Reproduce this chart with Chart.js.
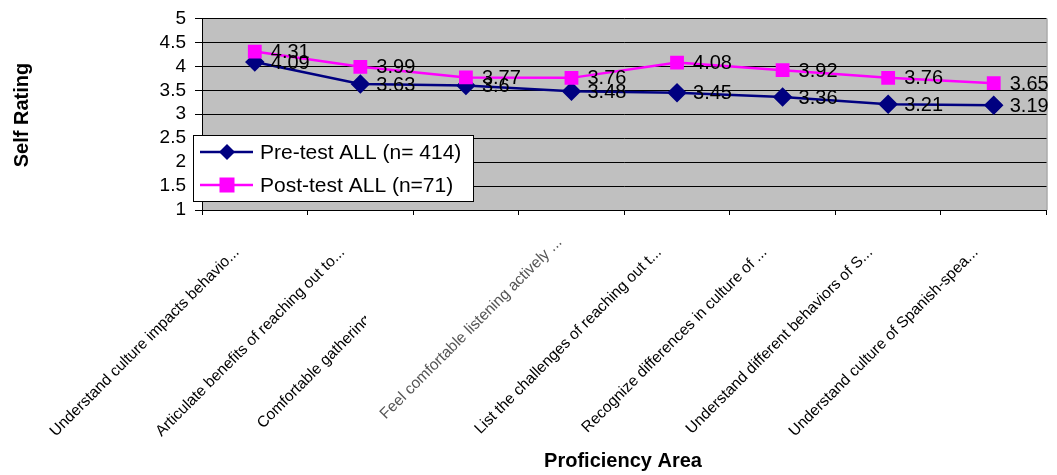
<!DOCTYPE html>
<html>
<head>
<meta charset="utf-8">
<script src="https://cdn.jsdelivr.net/npm/chart.js@4.4.1/dist/chart.umd.min.js"></script>
<style>
  html, body { margin: 0; padding: 0; background: #fff; }
  #wrap { width: 1057px; height: 475px; position: relative; }
</style>
</head>
<body>
<div id="wrap"><canvas id="chart" width="1057" height="475"></canvas></div>
<script>
// Proficiency areas (labels appear shortened on the axis)
const categories = [
  "Understand culture impacts behavio...",
  "Articulate benefits of reaching out to...",
  "Comfortable gathering",
  "Feel comfortable listening actively ...",
  "List the challenges of reaching out t...",
  "Recognize differences in culture of ...",
  "Understand different behaviors of S...",
  "Understand culture of Spanish-spea..."
];
const preLabel = "Pre-test ALL (n= 414)";
const postLabel = "Post-test ALL (n=71)";
const preValues = [4.09, 3.63, 3.6, 3.48, 3.45, 3.36, 3.21, 3.19];
const postValues = [4.31, 3.99, 3.77, 3.76, 4.08, 3.92, 3.76, 3.65];
const yTicks = [1, 1.5, 2, 2.5, 3, 3.5, 4, 4.5, 5];

const FONT = '"Liberation Sans", Arial, Helvetica, sans-serif';

// Grey plot background and right-hand frame
const plotBackground = {
  id: 'plotBackground',
  beforeDraw(chart) {
    const { ctx, chartArea: a } = chart;
    ctx.save();
    ctx.fillStyle = '#C0C0C0';
    ctx.fillRect(a.left, a.top, a.right - a.left, a.bottom - a.top);
    ctx.strokeStyle = '#808080';
    ctx.lineWidth = 1;
    ctx.beginPath();
    ctx.moveTo(a.right + 0.5, a.top);
    ctx.lineTo(a.right + 0.5, a.bottom);
    ctx.stroke();
    ctx.restore();
  }
};

// Value labels to the right of each marker
const valueLabels = {
  id: 'valueLabels',
  afterDatasetsDraw(chart) {
    const { ctx } = chart;
    ctx.save();
    ctx.font = '20px ' + FONT;
    ctx.fillStyle = '#000';
    ctx.textAlign = 'left';
    ctx.textBaseline = 'middle';
    chart.data.datasets.forEach((ds, i) => {
      const meta = chart.getDatasetMeta(i);
      meta.data.forEach((pt, j) => {
        ctx.fillText(String(ds.data[j]), pt.x + 16, pt.y + 1);
      });
    });
    ctx.restore();
  }
};

// Rotated category labels, axis titles and the boxed legend
const annotations = {
  id: 'annotations',
  afterDraw(chart) {
    const { ctx, chartArea: a } = chart;
    const xs = chart.scales.x;
    ctx.save();

    // category labels at 45 degrees
    ctx.font = '15.5px ' + FONT;
    ctx.textBaseline = 'middle';
    categories.forEach((lab, i) => {
      const cx = xs.getPixelForValue(i);
      ctx.save();
      ctx.fillStyle = '#000';
      if (i === 2) {
        // this label is cut off partway through
        ctx.beginPath();
        ctx.rect(0, a.bottom, cx - 100, 300);
        ctx.clip();
        ctx.translate(cx - 206, a.bottom + 216);
        ctx.rotate(-Math.PI / 4);
        ctx.textAlign = 'left';
      } else {
        let ax = cx - 18, ay = a.bottom + 40;
        if (i === 3) {
          ctx.fillStyle = '#555';
          ctx.filter = 'blur(0.5px)';
          ax = cx - 12; ay = a.bottom + 30;
        }
        ctx.translate(ax, ay);
        ctx.rotate(-Math.PI / 4);
        ctx.textAlign = 'right';
      }
      ctx.fillText(lab, 0, 0);
      ctx.restore();
    });

    // axis titles
    ctx.fillStyle = '#000';
    ctx.font = 'bold 20px ' + FONT;
    ctx.textAlign = 'center';
    ctx.textBaseline = 'middle';
    ctx.fillText('Proficiency Area', 623, 461);
    ctx.save();
    ctx.translate(22, 115);
    ctx.rotate(-Math.PI / 2);
    ctx.fillText('Self Rating', 0, 0);
    ctx.restore();

    // legend box
    const lx = 193, ly = 135, lw = 280, lh = 66;
    ctx.fillStyle = '#fff';
    ctx.fillRect(lx, ly, lw, lh);
    ctx.strokeStyle = '#000';
    ctx.lineWidth = 1;
    ctx.strokeRect(lx + 0.5, ly + 0.5, lw, lh);
    const rows = [
      { label: preLabel, color: '#000080', shape: 'diamond', y: ly + 17 },
      { label: postLabel, color: '#FF00FF', shape: 'square', y: ly + 50 }
    ];
    rows.forEach(r => {
      ctx.strokeStyle = r.color;
      ctx.lineWidth = 2.5;
      ctx.beginPath();
      ctx.moveTo(lx + 7, r.y);
      ctx.lineTo(lx + 60, r.y);
      ctx.stroke();
      ctx.fillStyle = r.color;
      const mx = lx + 34;
      if (r.shape === 'diamond') {
        ctx.beginPath();
        ctx.moveTo(mx, r.y - 8);
        ctx.lineTo(mx + 8, r.y);
        ctx.lineTo(mx, r.y + 8);
        ctx.lineTo(mx - 8, r.y);
        ctx.closePath();
        ctx.fill();
      } else {
        ctx.fillRect(mx - 7.5, r.y - 7.5, 15, 15);
      }
      ctx.fillStyle = '#000';
      ctx.font = '21px ' + FONT;
      ctx.textAlign = 'left';
      ctx.fillText(r.label, lx + 67, r.y + 1);
    });

    ctx.restore();
  }
};

new Chart(document.getElementById('chart'), {
  type: 'line',
  data: {
    labels: categories,
    datasets: [
      {
        label: preLabel,
        data: preValues,
        borderColor: '#000080',
        backgroundColor: '#000080',
        borderWidth: 2.5,
        pointStyle: 'rectRot',
        pointRadius: 8,
        pointHoverRadius: 8,
        tension: 0,
        order: 1
      },
      {
        label: postLabel,
        data: postValues,
        borderColor: '#FF00FF',
        backgroundColor: '#FF00FF',
        borderWidth: 2.5,
        pointStyle: 'rect',
        pointRadius: 8,
        pointHoverRadius: 8,
        tension: 0,
        order: 0
      }
    ]
  },
  options: {
    responsive: false,
    animation: false,
    events: [],
    layout: { padding: { top: 18, right: 3, left: 0, bottom: 0 } },
    plugins: {
      legend: { display: false },
      tooltip: { enabled: false }
    },
    scales: {
      x: {
        type: 'category',
        offset: true,
        grid: {
          offset: true,
          drawOnChartArea: false,
          drawTicks: true,
          tickLength: 5,
          color: '#000'
        },
        border: { display: true, color: '#000', width: 1 },
        ticks: { display: false },
        afterFit(scale) { scale.height = 265; }
      },
      y: {
        min: 1,
        max: 5,
        afterBuildTicks(scale) { scale.ticks = yTicks.map(v => ({ value: v })); },
        grid: {
          color: '#000',
          lineWidth: 1,
          drawTicks: true,
          tickLength: 7
        },
        border: { display: true, color: '#000', width: 1 },
        ticks: {
          autoSkip: false,
          font: { family: FONT, size: 19, lineHeight: 1 },
          color: '#000',
          padding: 9,
          callback: v => String(v)
        },
        afterFit(scale) { scale.width = 202; }
      }
    }
  },
  plugins: [plotBackground, valueLabels, annotations]
});
</script>
</body>
</html>
